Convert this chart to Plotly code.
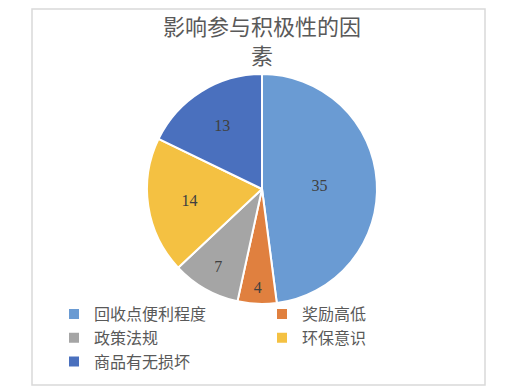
import plotly.graph_objects as go

title_text = "影响参与积极性的因<br>素"
categories = ["回收点便利程度", "奖励高低", "政策法规", "环保意识", "商品有无损坏"]
values = [35, 4, 7, 14, 13]
colors = ["#6A9BD3", "#E0803F", "#A5A5A5", "#F4C142", "#4A70BE"]

# page body has an 8px margin; figure sized to fill the remaining window
W, H = 500, 382
OFF = 8
cx, cy, r = 262 - OFF, 189 - OFF, 115

fig = go.Figure(go.Pie(
    labels=categories,
    values=values,
    sort=False,
    direction="clockwise",
    rotation=0,
    marker=dict(colors=colors, line=dict(color="white", width=2)),
    textinfo="value",
    textposition="inside",
    insidetextorientation="horizontal",
    textfont=dict(family="Liberation Serif", size=16, color="#404040"),
    domain=dict(x=[(cx - r) / W, (cx + r) / W], y=[1 - (cy + r) / H, 1 - (cy - r) / H]),
    hoverinfo="label+value",
))

fig.update_layout(
    width=W, height=H,
    margin=dict(l=0, r=0, t=0, b=0, autoexpand=False),
    paper_bgcolor="white",
    plot_bgcolor="white",
    title=dict(text=title_text, x=(262 - OFF) / W, xanchor="center",
               y=1 - (35 - OFF) / H, yanchor="middle",
               font=dict(family="Noto Sans CJK SC", size=22, color="#595959")),
    showlegend=True,
    legend=dict(orientation="h", x=(66 - OFF - 12) / W, xanchor="left",
                y=1 - (297 - OFF) / H, yanchor="top",
                entrywidth=163, entrywidthmode="pixels", traceorder="normal",
                bgcolor="rgba(0,0,0,0)",
                font=dict(family="Noto Sans CJK SC", size=16, color="#595959"),
                itemwidth=30, tracegroupgap=0),
    shapes=[dict(type="rect", xref="paper", yref="paper",
                 x0=(32 - OFF) / W, x1=(485 - OFF) / W, y0=1 - (385 - OFF) / H, y1=1 - 1 / H,
                 line=dict(color="#D9D9D9", width=1.5), fillcolor="rgba(0,0,0,0)")],
)

fig.write_html("out.html")
